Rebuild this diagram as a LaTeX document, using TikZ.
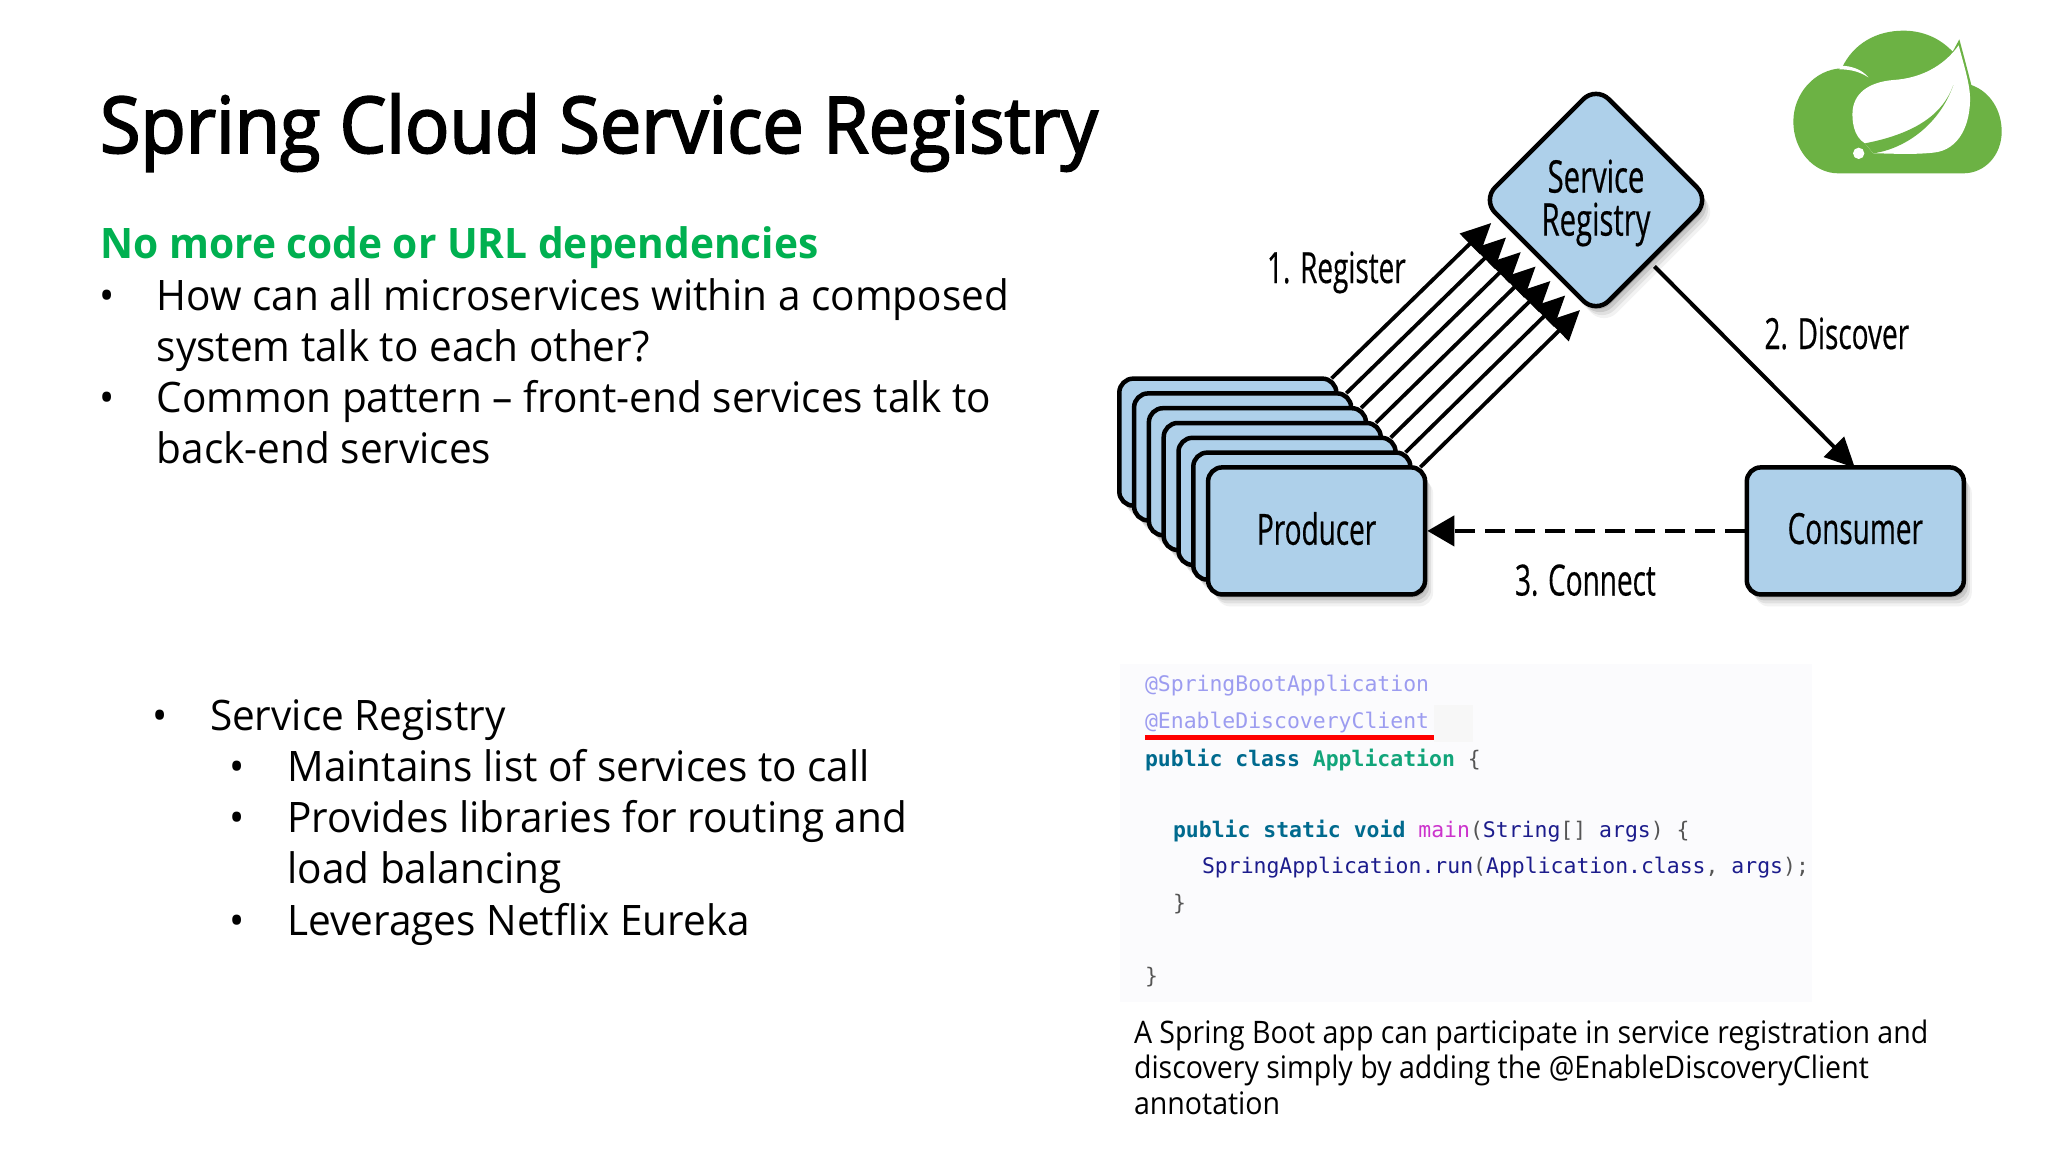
\documentclass[tikz,border=0pt]{standalone}
\usepackage{fontspec}
\usetikzlibrary{arrows.meta,shapes.geometric,shadows}
\setmainfont{Open Sans}
\newfontfamily\bodyf[FakeStretch=.965]{Open Sans}
\newfontfamily\headf[FakeStretch=.968]{Open Sans Bold}
\newfontfamily\titlef[FakeBold=2.5,FakeStretch=.947]{Open Sans}
\newfontfamily\condf[FakeStretch=.65,FakeBold=.4]{Open Sans}
\newfontfamily\codef{DejaVu Sans Mono}
\newfontfamily\capf[FakeStretch=.921]{Open Sans}
\definecolor{boxblue}{HTML}{AED0EA}
\definecolor{headgreen}{HTML}{00B050}
\definecolor{logogreen}{HTML}{6CB244}
\definecolor{annot}{HTML}{9C9CF0}
\definecolor{kw}{HTML}{006A8E}
\definecolor{cls}{HTML}{12A57A}
\definecolor{fn}{HTML}{CC33CC}
\definecolor{nm}{HTML}{1C1C8C}
\definecolor{punc}{HTML}{555555}
\definecolor{panel}{HTML}{FBFBFD}
\tikzset{
  txt/.style={anchor=base west,inner sep=0pt,outer sep=0pt},
  body/.style={txt,font=\bodyf\fontsize{42}{50}\selectfont},
  code/.style={txt,font=\codef\fontsize{21.45}{26}\selectfont},
  capt/.style={txt,font=\capf\fontsize{31}{36}\selectfont},
  lab/.style={txt,font=\condf\fontsize{43}{50}\selectfont},
  softshadow/.style={
    drop shadow={shadow xshift=2pt,shadow yshift=-3pt,opacity=.12,fill=black},
    drop shadow={shadow xshift=4pt,shadow yshift=-6pt,opacity=.10,fill=black},
    drop shadow={shadow xshift=6pt,shadow yshift=-9pt,opacity=.07,fill=black},
    drop shadow={shadow xshift=8pt,shadow yshift=-12pt,opacity=.05,fill=black}},
  boxn/.style={draw=black,fill=boxblue,line width=4.5pt,rounded corners=14pt,
    minimum width=217pt,minimum height=127pt,inner sep=0pt,softshadow,text depth=5pt,
    font=\condf\fontsize{43}{50}\selectfont},
  diam/.style={diamond,draw=black,fill=boxblue,line width=4.5pt,rounded corners=18pt,
    minimum width=229pt,minimum height=229pt,aspect=1,inner sep=0pt,softshadow,
    align=center,font=\condf\fontsize{45}{43}\selectfont},
  regarrow/.style={line width=3.8pt,-{Triangle[length=30pt,width=28pt]}},
  solidarrow/.style={line width=4pt,-{Triangle[length=30pt,width=28pt]}},
  dasharrow/.style={line width=4.5pt,dash pattern=on 20pt off 10pt,-{Triangle[length=27pt,width=30pt]}},
}
\begin{document}
\begin{tikzpicture}[x=1pt,y=-1pt]
\useasboundingbox (0,0) rectangle (2048,1152);
\fill[white] (0,0) rectangle (2048,1152);

% title and text
\node[txt,font=\titlef\fontsize{78}{86}\selectfont] (title) at (100,152.8) {Spring Cloud Service Registry};
\node[txt,font=\headf\fontsize{42}{50}\selectfont,text=headgreen] (head) at (100.5,258) {No more code or URL dependencies};
\node[body] (b1) at (99,310.3) {•};
\node[body] (t1a) at (156.7,310.3) {How can all microservices within a composed};
\node[body] (t1b) at (156.7,361.3) {system talk to each other?};
\node[body] (b2) at (99,412.3) {•};
\node[body] (t2a) at (156.7,412.3) {Common pattern – front-end services talk to};
\node[body] (t2b) at (156.7,463.3) {back-end services};
\node[body] (b3) at (152,730.8) {•};
\node[body] (t3) at (210,730.8) {Service Registry};
\node[body] (b4) at (229,781.8) {•};
\node[body] (t4) at (287.5,781.8) {Maintains list of services to call};
\node[body] (b5) at (229,832.8) {•};
\node[body] (t5a) at (287.5,832.8) {Provides libraries for routing and};
\node[body] (t5b) at (287.5,883.8) {load balancing};
\node[body] (b6) at (229,935.8) {•};
\node[body] (t6) at (287.5,935.8) {Leverages Netflix Eureka};

% logo
\begin{scope}[shift={(1760,10)},x=0.33333pt,y=-0.33333pt]
\fill[logogreen] (235,490) .. controls (160,490) and (100,420) .. (100,335)
  .. controls (100,250) and (165,178) .. (245,175)
  .. controls (280,100) and (350,62) .. (430,62)
  .. controls (490,62) and (540,85) .. (578,125) -- (598,88)
  .. controls (612,140) and (625,190) .. (634,225)
  .. controls (690,245) and (725,300) .. (725,365)
  .. controls (725,435) and (675,490) .. (610,490) -- cycle;
\fill[white] (243,167) .. controls (275,168) and (305,178) .. (325,202)
  .. controls (300,186) and (275,178) .. (238,178) -- cycle;
\fill[white] (596,106) .. controls (610,160) and (628,215) .. (630,260)
  .. controls (632,340) and (600,420) .. (520,428)
  .. controls (450,435) and (390,430) .. (340,430) -- (315,400)
  .. controls (280,380) and (275,330) .. (278,300)
  .. controls (285,240) and (340,215) .. (400,210)
  .. controls (480,205) and (550,170) .. (596,106) -- cycle;
\fill[logogreen] (340,430) .. controls (440,415) and (540,340) .. (580,225)
  .. controls (550,310) and (470,370) .. (315,400) -- cycle;
\fill[white] (296,430) circle[radius=17];
\end{scope}

% diagram
\node[diam] (reg) at (1596,200) {\rule{0pt}{39pt}Service\\Registry};
\foreach \k in {6,5,...,1}{
  \node[boxn] (p\k) at ({1316.6-14.8*\k},{530.9-14.8*\k}) {};
}
\node[boxn] (p0) at (1316.6,530.9) {Producer};
\node[boxn] (cons) at (1855.3,530.9) {Consumer};
\foreach \k in {0,...,6}{
  \coordinate (r\k) at ({1580-14.8*\k},{310-14.5*\k});
  \draw[regarrow] ([xshift=-7pt,yshift=-2pt]p\k.north east) -- (r\k);
}
\coordinate (consin) at (1855,468);
\draw[solidarrow] ([yshift=-8pt]reg.south east) -- (consin);
\draw[dasharrow] (cons.west) -- (p0.east);
\node[lab] (lr) at (1267,283) {1. Register};
\node[lab] (ld) at (1764.5,349) {2. Discover};
\node[lab] (lc) at (1515,595.5) {3. Connect};

% code panel
\fill[panel] (1120.3,663.6) rectangle (1811.7,1001.9);
\fill[black!3] (1434,705) rectangle (1473,742);
\node[code,text=annot] (c1) at (1145,691.8) {@SpringBootApplication};
\node[code,text=annot] (c2) at (1145,728.6) {@EnableDiscoveryClient};
\coordinate (ua) at (1145,737);
\coordinate (ub) at (1434,737);
\draw[red,line width=5pt] (ua) -- (ub);
\node[code] (c3) at (1145,766.3) {\textcolor{kw}{\bfseries public class} \textcolor{cls}{\bfseries Application} \textcolor{punc}{\{}};
\node[code] (c4) at (1173,837) {\textcolor{kw}{\bfseries public static void} \textcolor{fn}{main}\textcolor{punc}{(}\textcolor{nm}{String}\textcolor{punc}{[]} \textcolor{nm}{args}\textcolor{punc}{) \{}};
\node[code,text=nm] (c5) at (1202,873.8) {SpringApplication.run\textcolor{punc}{(}Application.class\textcolor{punc}{,} args\textcolor{punc}{);}};
\node[code,text=punc] (c6) at (1173,910.6) {\}};
\node[code,text=punc] (c7) at (1145,983.3) {\}};

% caption
\node[capt] (cap1) at (1134,1043.6) {A Spring Boot app can participate in service registration and};
\node[capt] (cap2) at (1134,1078.5) {discovery simply by adding the @EnableDiscoveryClient};
\node[capt] (cap3) at (1134,1114.3) {annotation};
\end{tikzpicture}
\end{document}
